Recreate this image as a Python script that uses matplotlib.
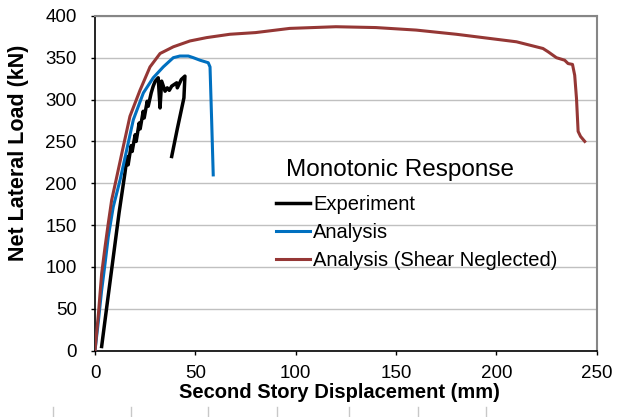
import matplotlib
matplotlib.use('Agg')
import matplotlib.pyplot as plt
from matplotlib.lines import Line2D

plt.rcParams['font.family'] = ['Liberation Sans', 'DejaVu Sans']

# Experiment (monotonic test)
exp_x = [3.3, 6, 9, 12, 14.9, 16, 16.5, 18, 18.5, 20, 20.5, 22, 22.5, 24, 24.5, 26, 26.5,
         28, 29, 30, 31.5, 32.4, 33.2, 34.9, 36, 37, 38.2, 40.7, 41, 43, 44.8, 44.3, 41, 38.2]
exp_y = [5, 55, 110, 165, 212, 232, 222, 245, 238, 258, 250, 272, 265, 286, 278, 298, 292,
         308, 316, 322, 326, 290, 322, 310, 314, 311, 316, 320, 314, 324, 328, 302, 265, 232]

# Analysis
ana_x = [0, 1.7, 3.3, 5, 6.6, 9.1, 12.5, 15.8, 19.1, 24.1, 29, 34, 39, 42.3, 46.5, 49,
         52.3, 56.4, 57.3, 58.1, 58.9]
ana_y = [0, 36, 72, 104, 136, 172, 204, 240, 276, 308, 326, 339, 350, 352, 352, 350,
         347, 344, 339, 276, 210]

# Analysis (Shear Neglected)
shr_x = [0, 1.7, 3.3, 5, 6.6, 8.3, 10.5, 14.1, 17.4, 22.4, 27.4, 32.4, 39, 47.3, 55.6,
         67.2, 80, 97, 120, 140, 160, 180, 200, 210, 216.6, 223.2, 225.8, 229.9, 234,
         235.7, 237.9, 239, 239.9, 240.7, 241.9, 244]
shr_y = [0, 44, 92, 124, 152, 180, 204, 244, 280, 311, 339, 355, 363, 370, 374,
         378, 380, 385, 387, 386, 383, 378, 372, 369, 365, 361, 357, 350, 347,
         343, 342, 329, 301, 262, 256, 250]

fig = plt.figure(figsize=(6.21, 4.17), dpi=100)
ax = fig.add_axes([0.153, 0.159, 0.808, 0.803])

ax.plot(exp_x, exp_y, color='black', lw=2.5, label='Experiment', zorder=3)
ax.plot(ana_x, ana_y, color='#0070C0', lw=2.2, label='Analysis', zorder=4)
ax.plot(shr_x, shr_y, color='#953735', lw=2.2, label='Analysis (Shear Neglected)', zorder=5)

ax.set_xlim(0, 250)
ax.set_ylim(0, 400)
ax.set_xticks(range(0, 251, 50))
ax.set_yticks(range(0, 401, 50))
ax.yaxis.grid(True, color='#C0C0C0', lw=1)
ax.set_axisbelow(True)

for s in ['top', 'right']:
    ax.spines[s].set_color('#868686')
    ax.spines[s].set_linewidth(1.5)
for s in ['left', 'bottom']:
    ax.spines[s].set_color('black')
    ax.spines[s].set_linewidth(1.2)
ax.tick_params(direction='out', length=3, width=1, labelsize=13.5)
ax.tick_params(axis='x', pad=7)
ax.tick_params(axis='y', pad=10)

ax.set_xlabel('Second Story Displacement (mm)', fontsize=14.5, fontweight='bold')
ax.set_ylabel('Net Lateral Load (kN)', fontsize=15.5, fontweight='bold')
ax.xaxis.set_label_coords(0.487, -0.095)
ax.yaxis.set_label_coords(-0.132, 0.59)

ax.text(0.381, 0.54, 'Monotonic Response', transform=ax.transAxes, fontsize=17.5,
        ha='left', va='center')
ax.legend(loc='upper left', bbox_to_anchor=(0.345, 0.49), frameon=False, fontsize=14.5,
          handlelength=1.7, handletextpad=0.15, labelspacing=0.45, borderaxespad=0)

# stray tick marks below the chart
for px in [53, 131, 208, 277, 349, 418, 486]:
    fig.add_artist(Line2D([px / 621, px / 621], [0, 10 / 417], color='#C8C8C8', lw=1))

fig.savefig('out.png', dpi=100)
